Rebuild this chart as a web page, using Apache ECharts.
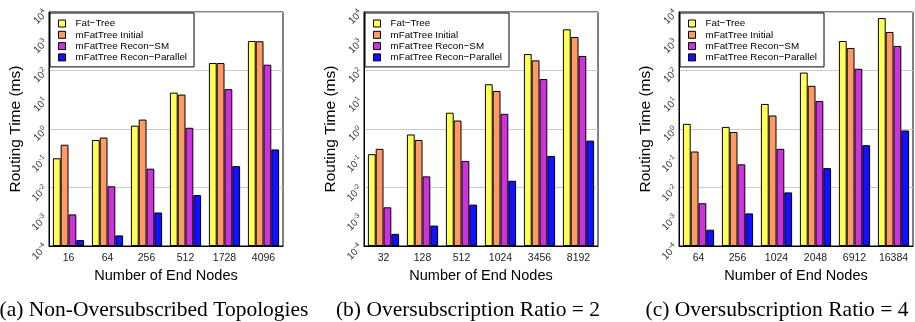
<!DOCTYPE html>
<html>
<head>
<meta charset="utf-8">
<script src="https://cdn.jsdelivr.net/npm/echarts@6/dist/echarts.min.js"></script>
<style>
  html, body { margin: 0; padding: 0; background: #fff; }
  #chart { width: 915px; height: 322px; }
</style>
</head>
<body>
<div id="chart"></div>
<script>
const seriesNames = ["Fat−Tree", "mFatTree Initial", "mFatTree Recon−SM", "mFatTree Recon−Parallel"];
const seriesColors = ["#ffff55", "#ff9966", "#cc33dd", "#1111ff"];

// (a) non-oversubscribed
const catsA = ["16", "64", "256", "512", "1728", "4096"];
const fatTreeA = [0.1, 0.42, 1.3, 17.5, 180, 1020];
const initialA = [0.29, 0.51, 2.1, 15, 180, 1000];
const reconSmA = [0.0012, 0.011, 0.044, 1.1, 23, 158];
const reconParA = [0.00016, 0.00023, 0.0014, 0.0055, 0.054, 0.2];

// (b) ratio = 2
const catsB = ["32", "128", "512", "1024", "3456", "8192"];
const fatTreeB = [0.138, 0.65, 3.6, 34, 365, 2550];
const initialB = [0.21, 0.42, 1.95, 20, 222, 1390];
const reconSmB = [0.0021, 0.024, 0.081, 3.3, 51, 315];
const reconParB = [0.00026, 0.0005, 0.0026, 0.017, 0.12, 0.4];

// (c) ratio = 4
const catsC = ["64", "256", "1024", "2048", "6912", "16384"];
const fatTreeC = [1.5, 1.18, 7.2, 85, 1020, 6200];
const initialC = [0.17, 0.79, 2.9, 30, 590, 2080];
const reconSmC = [0.0029, 0.062, 0.21, 9.1, 115, 690];
const reconParC = [0.00036, 0.0013, 0.0068, 0.046, 0.28, 0.89];

const yMin = 1e-4;
const yMax = 1e4;
const captions = [
  "(a) Non-Oversubscribed Topologies",
  "(b) Oversubscription Ratio = 2",
  "(c) Oversubscription Ratio = 4",
];

const panels = [
  { cats: catsA, data: [fatTreeA, initialA, reconSmA, reconParA], left: 49, caption: 154 },
  { cats: catsB, data: [fatTreeB, initialB, reconSmB, reconParB], left: 364, caption: 468 },
  { cats: catsC, data: [fatTreeC, initialC, reconSmC, reconParC], left: 679, caption: 777 },
];

const chart = echarts.init(document.getElementById("chart"), null, { renderer: "canvas" });

const font = "Liberation Sans, Arial, Helvetica, sans-serif";

const options = {
  backgroundColor: "#fff",
  animation: false,
  grid: panels.map((p) => ({
    left: p.left,
    top: 12,
    width: 234,
    height: 234,
    show: true,
    borderColor: "#000",
    borderWidth: 1,
    backgroundColor: "transparent",
  })),
  legend: panels.map((p) => ({
    data: seriesNames,
    orient: "vertical",
    left: p.left + 1,
    top: 13,
    padding: [5, 7, 4, 8],
    itemGap: 0.3,
    itemWidth: 7,
    itemHeight: 7,
    icon: "rect",
    borderColor: "#000",
    borderWidth: 1,
    backgroundColor: "#fff",
    itemStyle: { borderColor: "#000", borderWidth: 1 },
    textStyle: { fontFamily: font, fontSize: 9.8, color: "#000", padding: [0, 0, 0, 5], lineHeight: 11 },
  })),
  xAxis: panels.map((p, i) => ({
    type: "category",
    gridIndex: i,
    data: p.cats,
    name: "Number of End Nodes",
    nameLocation: "middle",
    nameGap: 20,
    nameTextStyle: { fontFamily: font, fontSize: 14.5, color: "#000" },
    axisLine: { show: true, lineStyle: { color: "#000", width: 1 } },
    axisTick: { show: false },
    axisLabel: { fontFamily: font, fontSize: 10.5, color: "#222", margin: 7 },
  })),
  yAxis: panels.map((p, i) => ({
    type: "log",
    logBase: 10,
    gridIndex: i,
    min: yMin,
    max: yMax,
    startValue: yMin,
    name: "Routing Time (ms)",
    nameLocation: "middle",
    nameGap: 25,
    nameTextStyle: { fontFamily: font, fontSize: 15.5, color: "#000" },
    axisLine: { show: true, lineStyle: { color: "#000", width: 1 } },
    axisTick: { show: false },
    splitLine: { show: true, lineStyle: { color: ["#cccccc", "rgba(0,0,0,0)"], width: 1 } },
    axisLabel: {
      rotate: 45,
      margin: 3,
      fontFamily: font,
      color: "#333",
      formatter(value) {
        const e = Math.round(Math.log10(value));
        return "{b|10}{s|" + e + "}";
      },
      rich: {
        b: { fontFamily: font, fontSize: 10, color: "#333" },
        s: { fontFamily: font, fontSize: 7, color: "#333", padding: [0, 0, 7, 0] },
      },
    },
  })),
  series: panels.flatMap((p, i) =>
    p.data.map((vals, k) => ({
      type: "bar",
      name: seriesNames[k],
      xAxisIndex: i,
      yAxisIndex: i,
      data: vals,
      barGap: "0%",
      barCategoryGap: "20%",
      itemStyle: { color: seriesColors[k], borderColor: "#000", borderWidth: 1 },
    }))
  ),
  graphic: panels.map((p, i) => ({
    type: "text",
    x: p.caption,
    y: 310,
    style: {
      text: captions[i],
      font: "21.5px 'Liberation Serif', 'Times New Roman', serif",
      fill: "#000",
      align: "center",
      verticalAlign: "middle",
    },
  })),
};

chart.setOption(options);
</script>
</body>
</html>
